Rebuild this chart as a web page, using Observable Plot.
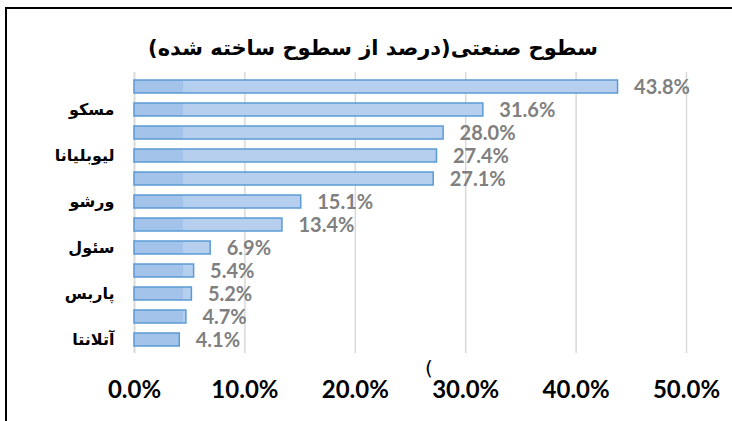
<!DOCTYPE html>
<html>
<head>
<meta charset="utf-8">
<script src="https://cdn.jsdelivr.net/npm/d3@7"></script>
<script src="https://cdn.jsdelivr.net/npm/@observablehq/plot@0.6"></script>
<style>
  body { margin: 0; background: #fff; }
  #wrap { position: relative; width: 732px; height: 421px; overflow: hidden; background: #fff; }
  #chart { position: absolute; left: 0; top: 0; }
  #frame { position: absolute; left: 5px; top: 7px; right: -5px; bottom: -5px; border-left: 2px solid #000; border-top: 2px solid #000; pointer-events: none; }
  #title { position: absolute; left: 0; width: 746px; top: 36px; text-align: center; font: bold 21px "DejaVu Sans", sans-serif; direction: rtl; color: #000; white-space: nowrap; }
  #stray { position: absolute; left: 425px; top: 356px; font: 20px "DejaVu Sans", sans-serif; color: #000; }
</style>
</head>
<body>
<div id="wrap">
  <div id="chart"></div>
  <div id="frame"></div>
  <div id="title"></div>
  <div id="stray">(</div>
</div>
<script>
// Chart data
const titleText = "سطوح صنعتی(درصد از سطوح ساخته شده)";
const cityLabels = ["", "مسکو", "", "لیوبلیانا", "", "ورشو", "", "سئول", "", "پاربس", "", "آتلانتا"];
const shares = [43.8, 31.6, 28.0, 27.4, 27.1, 15.1, 13.4, 6.9, 5.4, 5.2, 4.7, 4.1];
const xTicks = [0, 10, 20, 30, 40, 50];

document.getElementById("title").textContent = titleText;

const idx = d3.range(shares.length);
const numFont = "Lato, 'Open Sans', sans-serif";

const plot = Plot.plot({
  width: 732,
  height: 421,
  marginLeft: 134,
  marginRight: 46,
  marginTop: 72,
  marginBottom: 68,
  style: { background: "transparent", overflow: "visible" },
  x: { domain: [0, 50] },
  y: { domain: idx, paddingInner: 0.45, paddingOuter: 0.25 },
  marks: [
    Plot.gridX(xTicks.slice(1), { stroke: "#d9d9d9", strokeOpacity: 1, strokeWidth: 1.5 }),
    Plot.ruleX([0], { stroke: "#d9d9d9", strokeWidth: 2 }),
    Plot.barX(idx, {
      x: i => shares[i],
      y: i => i,
      fill: "url(#barGrad)",
      stroke: "#5b9bd5",
      strokeWidth: 1.5
    }),
    Plot.text(idx, {
      x: i => shares[i],
      y: i => i,
      text: i => shares[i].toFixed(1) + "%",
      textAnchor: "start",
      dx: 16,
      dy: 1,
      fill: "#808080",
      fontSize: 20,
      fontWeight: "bold",
      fontFamily: numFont
    }),
    Plot.axisX(xTicks, {
      tickSize: 0,
      tickPadding: 27,
      tickFormat: d => d.toFixed(1) + "%",
      fontSize: 24,
      fontWeight: "bold",
      fontFamily: numFont,
      fill: "#000",
      label: null
    }),
    Plot.axisY({
      tickSize: 0,
      tickPadding: 20,
      tickFormat: i => cityLabels[i],
      fontSize: 16,
      fontWeight: "bold",
      fontFamily: "'DejaVu Sans', sans-serif",
      fill: "#000",
      label: null
    })
  ]
});

// gradient for the bar fill: slightly darker strip near the axis, lighter beyond
const xs = plot.scale("x");
const svg = d3.select(plot);
const defs = svg.insert("defs", ":first-child");
const g = defs.append("linearGradient")
  .attr("id", "barGrad")
  .attr("gradientUnits", "userSpaceOnUse")
  .attr("x1", xs.apply(0)).attr("y1", 0)
  .attr("x2", xs.apply(4.4)).attr("y2", 0);
g.append("stop").attr("offset", 0).attr("stop-color", "#a4c3eb");
g.append("stop").attr("offset", 0.999).attr("stop-color", "#a4c3eb");
g.append("stop").attr("offset", 1).attr("stop-color", "#b6cfef");

document.getElementById("chart").appendChild(plot);
</script>
</body>
</html>
